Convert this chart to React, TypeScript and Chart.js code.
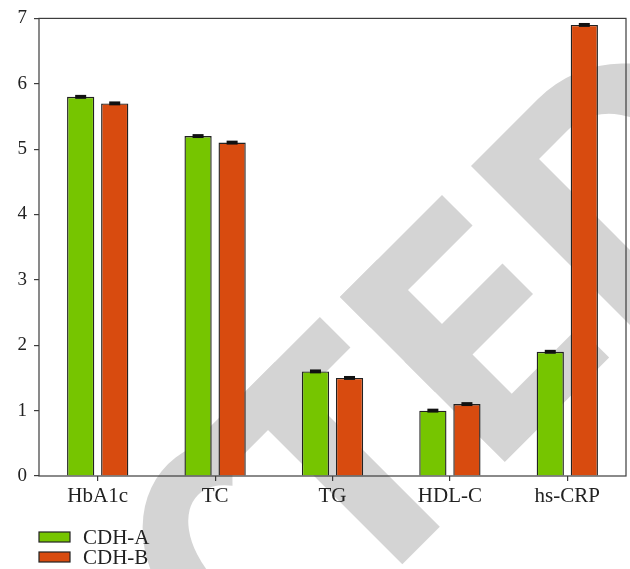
import React, { useEffect, useRef } from 'react';
import { Chart, registerables } from 'chart.js';

Chart.register(...registerables);

// ---- data ----
const categories = ['HbA1c', 'TC', 'TG', 'HDL-C', 'hs-CRP'];
const seriesNames = ['CDH-A', 'CDH-B'];
const cdhA = [5.8, 5.2, 1.6, 1.0, 1.9];
const cdhB = [5.7, 5.1, 1.5, 1.1, 6.9];
const errA = [0.03, 0.03, 0.03, 0.03, 0.03];
const errB = [0.03, 0.03, 0.03, 0.03, 0.03];
const yTicks = [0, 1, 2, 3, 4, 5, 6, 7];

// ---- styles ----
const GREEN = '#76c500';
const ORANGE = '#d84b0f';
const INK = '#222222';
const FRAME = '#3d3d3d';
const WATERMARK = '#d4d4d4';
const SERIF = '"Liberation Serif", "Times New Roman", serif';

// background + "RETRACTED" watermark fragments (letters C, T, E, D on a -45deg baseline)
const watermarkPlugin = {
  id: 'watermark',
  beforeDraw(chart: any) {
    const ctx = chart.ctx as CanvasRenderingContext2D;
    ctx.save();
    ctx.fillStyle = '#ffffff';
    ctx.fillRect(0, 0, chart.width, chart.height);
    ctx.rotate(-Math.PI / 4);
    ctx.fillStyle = WATERMARK;
    const top = 450.4;
    const bar = 43.2;
    const base = 683.5;
    const mid = (top + base) / 2;
    // C
    ctx.beginPath();
    ctx.ellipse(-210, mid, 98.5, 120, 0, (-50 * Math.PI) / 180, (50 * Math.PI) / 180, true);
    ctx.ellipse(-210, mid, 48, 77, 0, (50 * Math.PI) / 180, (-50 * Math.PI) / 180, false);
    ctx.closePath();
    ctx.fill();
    // T
    ctx.fillRect(-178, top, 180, bar);
    ctx.fillRect(-114.5, top, 53, base - top);
    // E
    ctx.fillRect(30.4, top, 53, base - top);
    ctx.fillRect(30.4, top, 144.3, bar);
    ctx.fillRect(30.4, 541.6, 138.6, bar);
    ctx.fillRect(30.4, base - bar, 147.5, bar);
    // D
    ctx.beginPath();
    ctx.moveTo(215.7, top);
    ctx.lineTo(310, top);
    ctx.ellipse(310, mid, 120, (base - top) / 2, 0, -Math.PI / 2, Math.PI / 2, false);
    ctx.lineTo(215.7, base);
    ctx.closePath();
    ctx.moveTo(268.7, top + bar);
    ctx.lineTo(310, top + bar);
    ctx.ellipse(310, mid, 62, (base - top) / 2 - bar, 0, -Math.PI / 2, Math.PI / 2, false);
    ctx.lineTo(268.7, base - bar);
    ctx.closePath();
    ctx.fill('evenodd');
    ctx.restore();
  },
};

const framePlugin = {
  id: 'frame',
  afterDatasetsDraw(chart: any) {
    const ctx = chart.ctx as CanvasRenderingContext2D;
    const a = chart.chartArea;
    ctx.save();
    ctx.strokeStyle = FRAME;
    ctx.lineWidth = 1.2;
    ctx.strokeRect(a.left, a.top, a.right - a.left, a.bottom - a.top);
    ctx.restore();
  },
};

const errorBarPlugin = {
  id: 'errorBars',
  afterDatasetsDraw(chart: any) {
    const ctx = chart.ctx as CanvasRenderingContext2D;
    const y = chart.scales.y;
    const errs = [errA, errB];
    ctx.save();
    ctx.fillStyle = '#111111';
    chart.data.datasets.forEach((ds: any, i: number) => {
      const meta = chart.getDatasetMeta(i);
      meta.data.forEach((el: any, j: number) => {
        const v = ds.data[j];
        const e = errs[i][j];
        const yTop = y.getPixelForValue(v + e);
        const yBot = y.getPixelForValue(v - e);
        ctx.fillRect(el.x - 5.5, yTop, 11, yBot - yTop);
      });
    });
    ctx.restore();
  },
};

const legendPlugin = {
  id: 'stackLegend',
  afterDraw(chart: any) {
    const ctx = chart.ctx as CanvasRenderingContext2D;
    const a = chart.chartArea;
    const colors = [GREEN, ORANGE];
    ctx.save();
    ctx.font = `21px ${SERIF}`;
    ctx.textBaseline = 'middle';
    ctx.textAlign = 'left';
    seriesNames.forEach((name, i) => {
      const cy = a.bottom + 61 + i * 20;
      ctx.fillStyle = colors[i];
      ctx.fillRect(a.left, cy - 5, 31, 10);
      ctx.strokeStyle = INK;
      ctx.lineWidth = 1.2;
      ctx.strokeRect(a.left, cy - 5, 31, 10);
      ctx.fillStyle = INK;
      ctx.fillText(name, a.left + 44, cy + 1);
    });
    ctx.restore();
  },
};

export default function App() {
  const ref = useRef<HTMLCanvasElement | null>(null);

  useEffect(() => {
    if (!ref.current) return;
    const chart = new Chart(ref.current, {
      type: 'bar',
      data: {
        labels: categories,
        datasets: [
          {
            label: seriesNames[0],
            data: cdhA,
            backgroundColor: GREEN,
            borderColor: INK,
            borderWidth: 1.4,
            barPercentage: 0.8,
            categoryPercentage: 0.58,
          },
          {
            label: seriesNames[1],
            data: cdhB,
            backgroundColor: ORANGE,
            borderColor: INK,
            borderWidth: 1.4,
            barPercentage: 0.8,
            categoryPercentage: 0.58,
          },
        ],
      },
      options: {
        responsive: false,
        devicePixelRatio: 1,
        animation: false,
        events: [],
        layout: { padding: { top: 13, right: 4, left: 0, bottom: 0 } },
        plugins: {
          legend: { display: false },
          tooltip: { enabled: false },
        },
        scales: {
          x: {
            offset: true,
            border: { display: false },
            grid: {
              display: true,
              drawOnChartArea: false,
              drawTicks: true,
              tickLength: 5,
              offset: false,
              color: FRAME,
              lineWidth: 1.2,
            },
            ticks: {
              color: INK,
              font: { family: SERIF, size: 21 },
              padding: 3,
              maxRotation: 0,
            },
            afterFit(scale: any) {
              scale.height = 93;
            },
          },
          y: {
            min: 0,
            max: 7,
            border: { display: false },
            grid: {
              display: true,
              drawOnChartArea: false,
              drawTicks: true,
              tickLength: 5,
              color: FRAME,
              lineWidth: 1.2,
            },
            ticks: {
              color: INK,
              font: { family: SERIF, size: 19 },
              padding: 7,
            },
            afterBuildTicks(scale: any) {
              scale.ticks = yTicks.map((v) => ({ value: v }));
            },
            afterFit(scale: any) {
              scale.width = 39;
            },
          },
        },
      },
      plugins: [watermarkPlugin, framePlugin, errorBarPlugin, legendPlugin],
    } as any);
    return () => chart.destroy();
  }, []);

  return (
    <div style={{ position: 'fixed', left: 0, top: 0, width: 630, height: 569, background: '#fff' }}>
      <canvas ref={ref} width={630} height={569} style={{ display: 'block' }} />
    </div>
  );
}
